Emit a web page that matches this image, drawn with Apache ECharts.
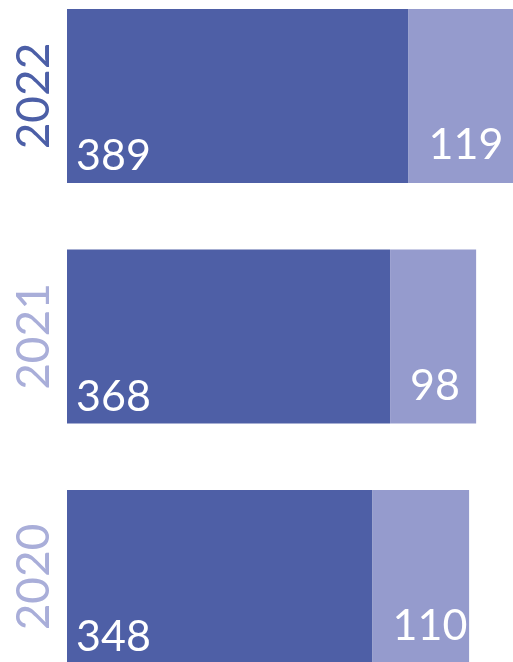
<!DOCTYPE html>
<html>
<head>
<meta charset="utf-8">
<script src="https://cdn.jsdelivr.net/npm/echarts@6/dist/echarts.min.js"></script>
<style>
html,body{margin:0;padding:0;background:#fff;}
#chart{width:513px;height:662px;}
</style>
</head>
<body>
<div id="chart"></div>
<script>
const years = ['2020', '2021', '2022'];
const mainValues = [348, 368, 389];
const extraValues = [110, 98, 119];
const yearColors = ['#a9aed9', '#a9aed9', '#4c5fa7'];

const chart = echarts.init(document.getElementById('chart'), null, {renderer: 'canvas'});
const labelStyle = {
  show: true,
  position: 'insideBottomLeft',
  distance: 9,
  offset: [0, 4],
  color: '#ffffff',
  fontFamily: 'Lato',
  fontWeight: 400,
  fontSize: 43
};
chart.setOption({
  animation: false,
  grid: {left: 67, right: 0, top: 96, bottom: 85, containLabel: false},
  xAxis: {
    type: 'value', min: 0, max: 508, show: false
  },
  yAxis: {
    type: 'category', data: years, boundaryGap: false,
    axisLine: {show: false}, axisTick: {show: false}, splitLine: {show: false},
    axisLabel: {
      rotate: 90, margin: 10, fontSize: 46, fontFamily: 'Lato', fontWeight: 400,
      color: function (v, i) { return yearColors[years.indexOf(v)]; }
    }
  },
  series: [
    {type: 'bar', stack: 'a', data: mainValues, barWidth: 174,
     itemStyle: {color: '#4e5fa6'}, label: labelStyle},
    {type: 'bar', stack: 'a', data: extraValues, barWidth: 174,
     itemStyle: {color: '#959bcd'}, label: Object.assign({}, labelStyle, {distance: 20})}
  ]
});
</script>
</body>
</html>
